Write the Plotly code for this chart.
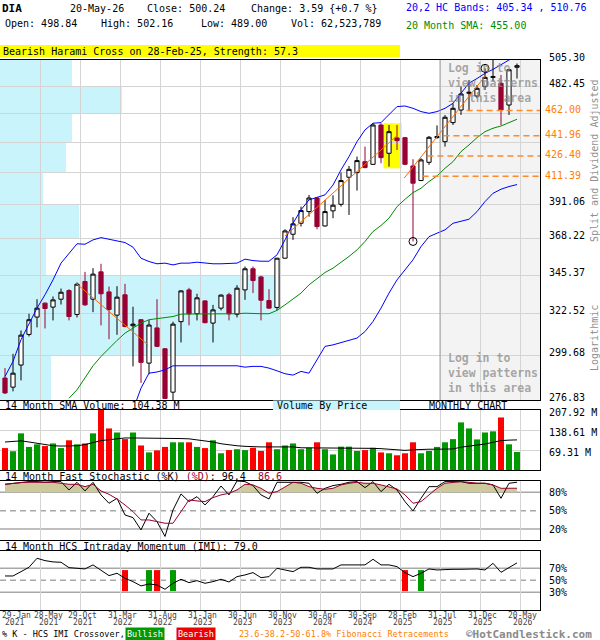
import math
import plotly.graph_objects as go

MONO = "DejaVu Sans Mono"

# monthly candles, index 0 = Jan 2021 ... 64 = May 2026
opens = [287.8, 283.2, 294.5, 310.9, 320.6, 328.6, 326.3, 330.9, 336.0, 322.1,
         341.4, 330.9, 347.3, 335.2, 321.7, 333.5, 315.7, 319.1, 295.5, 314.5,
         303.1, 280.7, 318.0, 336.4, 322.5, 329.9, 317.2, 325.7, 333.5, 322.2,
         336.4, 349.2, 344.2, 330.1, 326.1, 355.8, 371.2, 378.5, 386.4, 395.8,
         376.7, 386.9, 391.4, 410.6, 414.0, 422.1, 420.1, 450.4, 428.4, 440.2,
         440.4, 418.9, 408.2, 421.6, 440.4, 437.3, 452.3, 462.5, 476.4, 474.1,
         482.0, 490.0, 484.9, 466.6, 498.84]
highs = [292.9, 300.4, 313.1, 322.5, 330.9, 329.0, 332.5, 337.2, 336.8, 340.8,
         347.3, 349.6, 352.3, 338.4, 338.6, 340.0, 326.5, 319.4, 318.9, 330.9,
         303.5, 318.0, 336.0, 337.6, 334.1, 330.3, 327.6, 333.7, 334.7, 339.2,
         350.6, 350.6, 344.9, 336.8, 355.8, 374.5, 382.6, 389.8, 397.9, 396.3,
         394.5, 397.7, 414.0, 418.9, 425.9, 433.5, 451.8, 451.8, 450.4, 450.4,
         441.0, 423.9, 424.6, 441.7, 450.1, 458.4, 468.0, 482.0, 487.7, 483.4,
         497.9, 505.30, 492.1, 497.0, 502.16]
lows = [279.8, 281.1, 286.6, 309.8, 314.8, 314.2, 318.7, 327.8, 318.7, 320.4,
        327.0, 323.4, 315.9, 308.3, 310.7, 314.8, 293.8, 285.3, 289.8, 304.0,
        277.3, 276.83, 306.5, 315.9, 318.7, 317.2, 306.5, 324.4, 318.7, 320.4,
        330.5, 334.5, 318.7, 325.5, 324.4, 355.6, 367.5, 376.3, 383.0, 374.5,
        376.3, 381.9, 389.8, 384.1, 401.0, 417.2, 419.7, 420.9, 418.4, 430.9,
        419.7, 366.5, 407.9, 419.7, 439.7, 433.5, 450.4, 458.5, 462.5, 472.2,
        479.2, 486.3, 450.4, 458.5, 489.00]
closes = [280.3, 290.3, 310.5, 319.1, 325.7, 325.5, 330.5, 335.0, 320.9, 339.8,
          327.6, 345.9, 334.1, 324.9, 332.1, 315.3, 316.6, 295.9, 316.1, 304.4,
          277.6, 316.6, 335.8, 322.4, 331.7, 317.4, 324.7, 333.3, 322.4, 337.4,
          349.2, 342.0, 330.3, 325.7, 355.8, 373.4, 378.1, 387.1, 395.8, 376.3,
          386.4, 390.8, 408.2, 416.4, 422.9, 417.7, 450.4, 425.1, 445.1, 438.1,
          420.1, 406.3, 423.4, 440.7, 441.2, 456.6, 463.9, 475.8, 477.2, 480.6,
          490.0, 490.6, 462.5, 496.65, 500.24]

# volume in millions and its 14 month average
volume_m = [76, 65, 127, 80, 89, 83, 92, 76, 103, 89,
            92, 127, 207.92, 144, 130, 107, 130, 85, 61, 68,
            80, 96, 96, 96, 80, 76, 103, 58, 69, 72,
            69, 77, 66, 96, 72, 85, 92, 72, 77, 96,
            72, 54, 81, 81, 66, 69, 77, 61, 58, 51,
            58, 96, 58, 66, 80, 96, 107, 165, 144, 106,
            130, 134, 182, 89, 62.52]
volume_sma = [97, 100, 101, 97, 92, 87, 84, 83, 83, 84,
              88, 95, 102, 105, 108, 111, 111, 111, 111, 111,
              111, 110, 109, 108, 105, 102, 97, 91, 87, 84,
              82, 80, 80, 80, 80, 80, 80, 77, 77, 77,
              77, 77, 77, 77, 77, 76, 75, 74, 72, 70,
              68, 70, 72, 72, 72, 72, 73, 79, 82, 86,
              90, 96, 102, 103.5, 104.38]

# 20,2 bands and 20 month SMA
band_upper = [288.6, 296.4, 308.0, 317.2, 325.7, 333.5, 342.4, 352.7, 359.0, 365.0,
              364.7, 367.5, 369.0, 367.9, 367.1, 365.8, 362.8, 355.8, 353.7, 352.3,
              352.7, 351.6, 352.7, 352.7, 353.3, 352.7, 352.3, 352.3, 352.3, 352.7,
              355.2, 354.3, 353.9, 353.9, 357.9, 367.5, 378.5, 387.6, 394.5, 396.3,
              398.0, 405.0, 416.0, 425.9, 437.3, 446.5, 451.8, 452.3, 458.5, 465.3,
              465.8, 463.9, 461.2, 459.8, 461.2, 463.9, 468.0, 476.0, 485.0, 489.0,
              493.5, 497.0, 501.0, 505.3, 510.76]
band_lower = [None] * 16 + [
              272.0, 282.7, 290.3, 290.9, 292.0, 294.1, 294.1, 294.1, 294.1, 294.1,
              293.8, 293.8, 293.8, 294.1, 293.4, 293.8, 293.8, 292.9, 291.5, 290.0,
              289.3, 291.2, 290.3, 297.3, 304.4, 305.2, 306.5, 307.6, 308.9, 312.5,
              318.1, 325.7, 334.5, 342.4, 348.5, 354.8, 363.2, 369.6, 371.9, 374.1,
              378.5, 379.6, 381.2, 386.4, 393.3, 399.1, 402.0, 403.9, 405.34]
sma20 = [None] * 8 + [
         277.7, 281.9, 287.9, 294.1, 299.0, 303.4, 307.6, 311.6, 314.4, 317.2,
         319.1, 319.6, 320.0, 320.9, 322.3, 322.3, 322.5, 322.5, 322.5, 322.5,
         322.3, 322.5, 322.8, 322.5, 322.5, 322.5, 324.4, 327.6, 330.9, 334.5,
         339.4, 343.4, 346.9, 349.6, 353.1, 356.9, 361.1, 366.5, 373.0, 377.0,
         381.9, 389.8, 394.9, 399.6, 402.7, 407.5, 411.6, 417.2, 422.1, 429.7,
         434.8, 440.4, 445.1, 447.8, 449.6, 452.3, 455.0]

# fast stochastic and intraday momentum
stoch_k = [93, 94.7, 96.3, 97.4, 97.4, 96.3, 97.4, 97.4, 83.8, 96.3,
           82.2, 96.3, 75.7, 62.1, 70.2, 43, 38.7, 18.6, 45.8, 32.2,
           8, 51.2, 77.3, 64.8, 72.9, 59.3, 72.9, 90.3, 75.7, 98.5,
           97.4, 90.9, 75.7, 69.1, 96.3, 96.3, 97.4, 96.3, 94.7, 78.4,
           86.5, 90.9, 93, 96.3, 97.4, 87.6, 97.4, 81.1, 93, 83.8,
           64.8, 49.6, 70.2, 89.2, 89.2, 97.4, 97.4, 97.4, 94.7, 94.7,
           94.7, 92, 70.2, 94.7, 96.4]
stoch_d = [93, 94.7, 95.8, 96.3, 96.3, 97.4, 96.3, 94.7, 93, 93,
           89.2, 93, 82.2, 76.7, 69.1, 59.3, 48.5, 34.9, 34.9, 32.2,
           29.5, 29.5, 48.5, 67.5, 65.9, 64.8, 71.3, 75.7, 78.4, 83.8,
           93, 92, 86.5, 78.4, 81.1, 89.2, 96.3, 94.7, 89.2, 86.5,
           84.9, 86.5, 92, 94.7, 96.3, 94.7, 94.7, 92, 89.2, 85.4,
           75.7, 62.1, 64.8, 75.7, 86.5, 94.7, 96.3, 97.4, 96.3, 94.7,
           94.7, 92, 86.5, 86.5, 86.6]
imi = [57.2, 57.2, 64.4, 71.7, 86.7, 82.8, 80.6, 80, 71.1, 70,
       68.9, 75.6, 66.1, 57.8, 61.7, 53.3, 47.8, 40.6, 43.9, 42.2,
       35, 45, 51.7, 46.1, 49.4, 45, 47.8, 51.7, 47.2, 56.1,
       58.9, 62.8, 54.4, 56.1, 70, 67.2, 64.4, 71.7, 71.7, 68.9,
       68.9, 68.9, 75.6, 75.6, 74.4, 75.6, 85, 75.6, 75.6, 72.8,
       62.8, 56.1, 61.7, 68.9, 67.2, 68.3, 68.3, 68.3, 68.9, 68.9,
       67.2, 78.3, 63.3, 71.7, 79.0]
bullish_months = [18, 21, 52]
bearish_months = [15, 19, 50]
cross_low, cross_high = 32, 67

# pattern overlays
fib_levels = [462.00, 441.96, 426.40, 411.39]
fib_start = [57.7, 54.8, 52.8, 52.2]
trend1_x, trend1_y = [8.9, 17.9], [340.3, 305.1]
trend2_x, trend2_y = [35, 49], [370.0, 442.0]
trend3_x, trend3_y = [49.9, 60], [410.0, 491.0]
pivot_months = [51, 60]
pattern_months = [48, 49]
login_from = 54.375

# volume by price (millions), bottom bin to top bin
vbp_volume = [510, 2800, 2800, 460, 790, 430, 660, 720, 1220, 720]

price_ticks = [276.83, 299.68, 322.52, 345.37, 368.22, 391.06, 413.90, 436.75, 459.60, 482.45, 505.30]
hidden_ticks = [413.90, 436.75, 459.60]
vol_ticks = [69.31, 138.61, 207.92]
stoch_ticks = [20, 50, 80]
imi_ticks = [30, 50, 70]

tick_months = [0, 4, 9, 14, 19, 24, 29, 34, 39, 44, 49, 54, 59, 64]
tick_days = ["29-Jan", "28-May", "29-Oct", "31-Mar", "31-Aug", "31-Jan", "30-Jun",
             "30-Nov", "30-Apr", "30-Sep", "28-Feb", "31-Jul", "31-Dec", "20-May"]
tick_years = ["2021", "2021", "2021", "2022", "2022", "2023", "2023",
              "2023", "2024", "2024", "2025", "2025", "2025", "2026"]

RED = "#990033"
GRID = "#d4d4d4"
VBP = "#c9f4fb"
ORANGE = "#ff8a2a"
idx = list(range(len(closes)))
x_range = [-0.625, 66.875]
grid_x = [m + 0.375 for m in tick_months[1:]]


def py(p):
    return 1 - p / 640


fig = go.Figure()

fig.add_trace(go.Candlestick(
    x=idx, open=opens, high=highs, low=lows, close=closes,
    increasing=dict(line=dict(color="black", width=1), fillcolor="white"),
    decreasing=dict(line=dict(color=RED, width=1), fillcolor=RED),
    whiskerwidth=0, xaxis="x", yaxis="y"))

line_traces = [(band_upper, "#0000ff"), (band_lower, "#0000ff"), (sma20, "#008c00")]
for ys, col in line_traces:
    fig.add_trace(go.Scatter(x=idx, y=ys, mode="lines", line=dict(color=col, width=1),
                             xaxis="x", yaxis="y"))

for tx, ty in [(trend1_x, trend1_y), (trend2_x, trend2_y), (trend3_x, trend3_y)]:
    fig.add_trace(go.Scatter(x=tx, y=ty, mode="lines", line=dict(color="#ff6a00", width=1),
                             xaxis="x", yaxis="y"))

for lvl, st in zip(fib_levels, fib_start):
    fig.add_trace(go.Scatter(x=[st, x_range[1]], y=[lvl, lvl], mode="lines",
                             line=dict(color=ORANGE, width=1.5, dash="6px,4px"),
                             xaxis="x", yaxis="y"))
    fig.add_annotation(xref="paper", yref="y", x=543 / 600, y=math.log10(lvl), yshift=1,
                       text=f"{lvl:.2f}", showarrow=False, xanchor="left",
                       font=dict(family=MONO, size=10, color="#ff8000"))

fig.add_trace(go.Scatter(
    x=pivot_months, y=[lows[pivot_months[0]], highs[pivot_months[1]]], mode="markers",
    marker=dict(symbol="circle-open", size=8, color="black", line=dict(width=1)),
    xaxis="x", yaxis="y"))

# volume panel
vol_colors = ["#009900" if c >= o else "#ff0000" for o, c in zip(opens, closes)]
fig.add_trace(go.Bar(x=idx, y=volume_m, width=0.75, marker=dict(color=vol_colors, line=dict(width=0)),
                     xaxis="x2", yaxis="y2"))
fig.add_trace(go.Scatter(x=idx, y=volume_sma, mode="lines", line=dict(color="black", width=1),
                         xaxis="x2", yaxis="y2"))

# stochastic panel
fig.add_trace(go.Scatter(x=idx, y=[80] * len(idx), mode="lines", line=dict(width=0),
                         xaxis="x3", yaxis="y3"))
fig.add_trace(go.Scatter(x=idx, y=[max(d, 80) for d in stoch_d], mode="lines", line=dict(width=0),
                         fill="tonexty", fillcolor="#cdc99d", xaxis="x3", yaxis="y3"))
fig.add_trace(go.Scatter(x=idx, y=stoch_k, mode="lines", line=dict(color="black", width=1),
                         xaxis="x3", yaxis="y3"))
fig.add_trace(go.Scatter(x=idx, y=stoch_d, mode="lines", line=dict(color=RED, width=1),
                         xaxis="x3", yaxis="y3"))

# momentum panel
for months, col in [(bullish_months, "#009900"), (bearish_months, "#ff0000")]:
    fig.add_trace(go.Bar(x=months, y=[cross_high - cross_low] * len(months), base=cross_low,
                         width=0.75, marker=dict(color=col, line=dict(width=0)),
                         xaxis="x4", yaxis="y4"))
fig.add_trace(go.Scatter(x=idx, y=imi, mode="lines", line=dict(color="black", width=1),
                         xaxis="x4", yaxis="y4"))

# shapes: volume by price, login area, pattern highlight, dashed levels
for k, v in enumerate(vbp_volume):
    fig.add_shape(type="rect", xref="x5", yref="y", x0=0, x1=v,
                  y0=price_ticks[k], y1=price_ticks[k + 1],
                  fillcolor=VBP, line=dict(width=0), layer="below")
fig.add_shape(type="rect", xref="x", yref="y domain", x0=login_from, x1=x_range[1], y0=0, y1=1,
              fillcolor="#f3f3f3", line=dict(width=0), layer="below")
fig.add_shape(type="line", xref="x", yref="y domain", x0=login_from, x1=login_from, y0=0, y1=1,
              line=dict(color="#a0a0a0", width=1))
fig.add_shape(type="rect", xref="x", yref="y",
              x0=pattern_months[0] - 0.7, x1=pattern_months[-1] + 0.6,
              y0=min(lows[m] for m in pattern_months) * 0.997,
              y1=max(highs[m] for m in pattern_months) * 1.003,
              fillcolor="#ffff00", line=dict(width=0), layer="below")
for ax, solid, dashed in [("y3", [20, 80], [50]), ("y4", [30, 70], [50])]:
    for v in solid + dashed:
        fig.add_shape(type="line", xref="paper", yref=ax, x0=0, x1=0.9, y0=v, y1=v, layer="below",
                      line=dict(color="#a8a8a8", width=1.5, dash="6px,4px" if v in dashed else "solid"))

axis_common = dict(showline=True, linecolor="black", linewidth=1, mirror=True, zeroline=False)
xcommon = dict(domain=[0, 0.9], range=x_range, tickvals=grid_x, showticklabels=False,
               showgrid=True, gridcolor=GRID, gridwidth=1, ticks="", **axis_common)
ycommon = dict(side="right", ticks="", showticklabels=False, **axis_common)

fig.update_layout(
    width=600, height=640, margin=dict(l=0, r=0, t=0, b=0),
    paper_bgcolor="white", plot_bgcolor="white", showlegend=False, boxgap=0.25,
    font=dict(family=MONO, size=10, color="black"),
    xaxis=dict(anchor="y", rangeslider=dict(visible=False), **xcommon),
    yaxis=dict(domain=[py(400), py(60)], type="log", anchor="x",
               range=[math.log10(price_ticks[0]), math.log10(price_ticks[-1])],
               tickvals=price_ticks, showgrid=True, gridcolor=GRID, **ycommon),
    xaxis2=dict(anchor="y2", matches="x", **xcommon),
    yaxis2=dict(domain=[py(470), py(410)], anchor="x2", range=[0, vol_ticks[-1]],
                tickvals=vol_ticks, showgrid=True, gridcolor=GRID, **ycommon),
    xaxis3=dict(anchor="y3", matches="x", **xcommon),
    yaxis3=dict(domain=[py(540), py(481)], anchor="x3", range=[2.2, 98.4],
                tickvals=stoch_ticks, showgrid=False, **ycommon),
    xaxis4=dict(anchor="y4", matches="x", **xcommon),
    yaxis4=dict(domain=[py(610), py(551)], anchor="x4", range=[0.5, 98.8],
                tickvals=imi_ticks, showgrid=False, **ycommon),
    xaxis5=dict(domain=[0, 0.9], overlaying="x", range=[0, max(vbp_volume) * 540 / 280], visible=False),
)

# right-hand scale labels
scale_sets = [("y", [t for t in price_ticks if t not in hidden_ticks], "{:.2f}", True, 3),
              ("y2", vol_ticks, "{:.2f} M", False, -2),
              ("y3", stoch_ticks, "{}%", False, 0),
              ("y4", imi_ticks, "{}%", False, 0)]
for ax, vals, fmt, is_log, shift in scale_sets:
    for v in vals:
        fig.add_annotation(xref="paper", yref=ax, x=547 / 600, y=math.log10(v) if is_log else v,
                           yshift=shift, text=fmt.format(v), showarrow=False, xanchor="left",
                           font=dict(family=MONO, size=10, color="black"))


def label(x, y, text, size=10, color="black", anchor="left", **kw):
    fig.add_annotation(xref="paper", yref="paper", x=x / 600, y=py(y), text=text, showarrow=False,
                       xanchor=anchor, yanchor="middle", font=dict(family=MONO, size=size, color=color), **kw)


# header
prev_close = closes[-2]
chg = closes[-1] - prev_close
label(0, 9, "<b>DIA</b>", size=11)
label(68, 9, "20-May-26")
label(145, 9, f"Close: {closes[-1]:.2f}")
label(249, 9, f"Change: {chg:.2f} {{+{chg / prev_close * 100:.1f} %}}")
label(3, 24, f"Open: {opens[-1]:.2f}")
label(99, 24, f"High: {highs[-1]:.2f}")
label(199, 24, f"Low: {lows[-1]:.2f}")
label(289, 24, "Vol: {:,}".format(62523789))
label(404, 8, f"20,2 HC Bands: {band_lower[-1]:.2f} , {band_upper[-1]:.2f}", color="#0000ff")
label(404, 25, f"20 Month SMA: {sma20[-1]:.2f}", color="#008c00")
fig.add_shape(type="rect", xref="paper", yref="paper", x0=0, x1=400 / 600, y0=py(57), y1=py(45),
              fillcolor="#ffff00", line=dict(width=0))
label(1, 51, "Bearish Harami Cross on 28-Feb-25, Strength: 57.3")

# right side notes
label(594, 161, "Split and Dividend Adjusted", color="#909090", anchor="center", textangle=-90)
label(594, 338, "Logarithmic", color="#909090", anchor="center", textangle=-90)

# login notes
for ytop in (83, 373):
    label(446, ytop, "<b>Log in to<br>view patterns<br>in this area</b>", size=11.5,
          color="rgba(140,140,140,0.75)", align="left")

# panel titles
label(3, 405, "14 Month SMA Volume: 104.38 M")
fig.add_shape(type="rect", xref="paper", yref="paper", x0=273 / 600, x1=400 / 600, y0=py(410), y1=py(400.5),
              fillcolor=VBP, line=dict(width=0))
label(275, 405, "Volume By Price")
label(468, 405, "MONTHLY CHART", anchor="center")
label(3, 476, f"14 Month Fast Stochastic (%K) <span style='color:{RED}'>(%D)</span>: "
              f"{stoch_k[-1]:.1f}  <span style='color:{RED}'>{stoch_d[-1]:.1f}</span>")
label(3, 546, f"14 Month HCS Intraday Momentum (IMI): {imi[-1]:.1f}")

# x labels, two rows
for k, m in enumerate(tick_months):
    for text, ypix in ((tick_days[k], 615), (tick_years[k], 622.5)):
        if k == 0:
            fig.add_annotation(xref="paper", yref="paper", x=0, y=py(ypix), text=text, showarrow=False,
                               xanchor="left", yanchor="middle", xshift=3 if ypix > 620 else 0,
                               font=dict(family=MONO, size=8, color="#444444"))
        else:
            fig.add_annotation(xref="x4", yref="paper", x=m + 0.375, y=py(ypix), text=text, showarrow=False,
                               xanchor="center", yanchor="middle", xshift=8 if k == 1 else 2,
                               font=dict(family=MONO, size=8, color="#444444"))

# footer
label(0, 634, "% K - HCS IMI Crossover,", size=8.5)
label(125, 634, "Bullish", size=8.5, color="white", bgcolor="#009900", borderpad=1)
label(176, 634, "Bearish", size=8.5, color="white", bgcolor="#ee0000", borderpad=1)
label(237, 634, "23.6-38.2-50-61.8% Fibonacci Retracements", size=8.5, color="#ff8000")
label(464, 634, "<b>©HotCandlestick.com</b>", size=11, color="#8a8a8a")

fig.write_html("out.html", config={"displayModeBar": False},
               post_script="document.body.style.margin='0';")
